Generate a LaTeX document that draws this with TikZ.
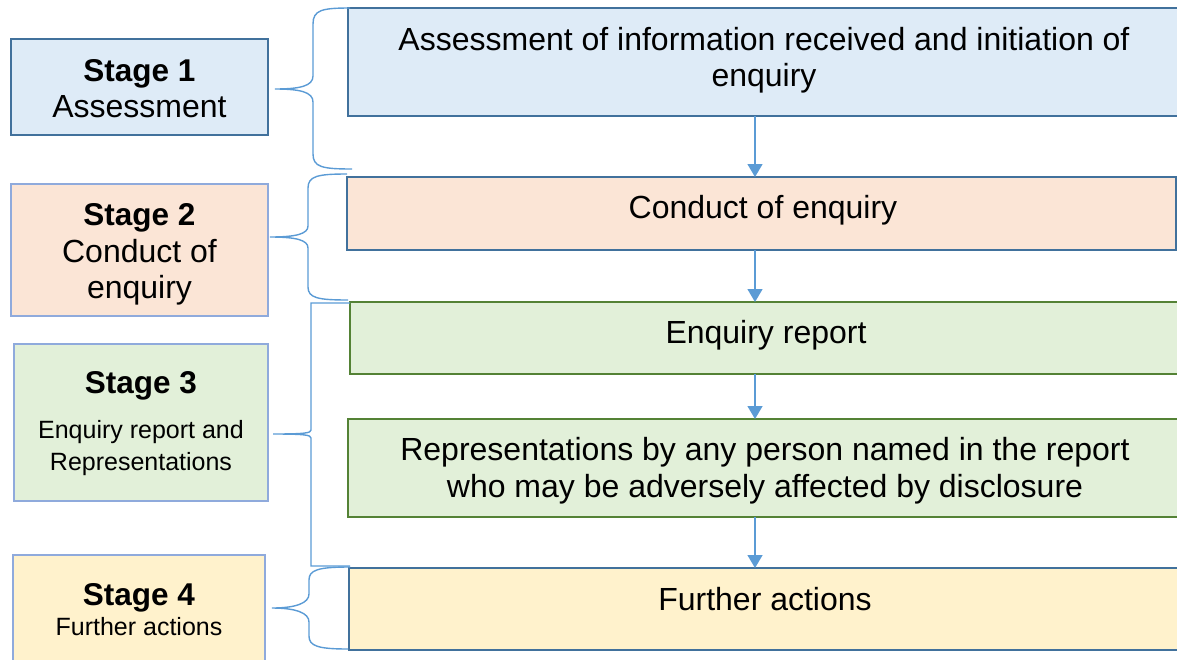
\documentclass[tikz,border=0pt]{standalone}
\usepackage{fontspec}
\setmainfont{Liberation Sans}
\usetikzlibrary{arrows.meta}
\definecolor{bluefill}{HTML}{DEEBF7}
\definecolor{darkblue}{HTML}{41719C}
\definecolor{lightblue}{HTML}{8FAADC}
\definecolor{peach}{HTML}{FBE5D6}
\definecolor{greenfill}{HTML}{E2F0D9}
\definecolor{darkgreen}{HTML}{548235}
\definecolor{yellowfill}{HTML}{FFF2CC}
\definecolor{linkblue}{HTML}{5B9BD5}
\begin{document}
\begin{tikzpicture}[x=1pt,y=-1pt,
  box/.style={draw, line width=2.2pt, inner sep=0pt, outer sep=0pt},
  big/.style={font=\fontsize{32}{36}\selectfont, anchor=base, inner sep=0pt},
  bigb/.style={font=\fontsize{31.5}{36}\selectfont\bfseries, anchor=base, inner sep=0pt},
  small/.style={font=\fontsize{25}{30}\selectfont, anchor=base, inner sep=0pt},
  brace/.style={draw=linkblue, line width=1.4pt},
  arr/.style={draw=linkblue, line width=1.4pt, -{Triangle[width=15pt,length=13pt]}}]
\useasboundingbox (0,0) rectangle (1177,659);
\clip (0,0) rectangle (1177,659);

% stage boxes
\node[box, draw=darkblue, fill=bluefill, minimum width=257pt, minimum height=96pt] (s1) at (139.5,87) {};
\node[box, draw=lightblue, fill=peach, minimum width=257pt, minimum height=132pt] (s2) at (139.5,250) {};
\node[box, draw=lightblue, fill=greenfill, minimum width=254pt, minimum height=157pt] (s3) at (141,422.5) {};
\node[box, draw=lightblue, fill=yellowfill, minimum width=252pt, minimum height=125pt] (s4) at (139,617.5) {};

% main boxes
\node[box, draw=darkblue, fill=bluefill, minimum width=837pt, minimum height=108pt] (m1) at (766.5,62) {};
\node[box, draw=darkblue, fill=peach, minimum width=829pt, minimum height=73pt] (m2) at (761.5,213.5) {};
\node[box, draw=darkgreen, fill=greenfill, minimum width=835pt, minimum height=72pt] (m3) at (767.5,338) {};
\node[box, draw=darkgreen, fill=greenfill, minimum width=837pt, minimum height=98pt] (m4) at (766.5,468) {};
\node[box, draw=darkblue, fill=yellowfill, minimum width=836pt, minimum height=82pt] (m5) at (767,609) {};

% stage texts
\node[bigb] (s1a) at (139.5,81) {Stage 1};
\node[big] (s1b) at (139.5,117) {Assessment};
\node[bigb] (s2a) at (139.5,225) {Stage 2};
\node[big] (s2b) at (139.5,262) {Conduct of};
\node[big] (s2c) at (139.5,298) {enquiry};
\node[bigb] (s3a) at (141,393) {Stage 3};
\node[small] (s3b) at (141,438) {Enquiry report and};
\node[small] (s3c) at (141,470) {Representations};
\node[bigb] (s4a) at (139,605) {Stage 4};
\node[small] (s4b) at (139,635) {Further actions};

% main texts
\node[big] (m1a) at (764,50) {Assessment of information received and initiation of};
\node[big] (m1b) at (764,86) {enquiry};
\node[big] (m2a) at (763,218) {Conduct of enquiry};
\node[big] (m3a) at (766,343) {Enquiry report};
\node[big] (m4a) at (765,460) {Representations by any person named in the report};
\node[big] (m4b) at (765,497) {who may be adversely affected by disclosure};
\node[big] (m5a) at (765,610) {Further actions};

% arrows
\coordinate (ax) at (755,0);
\draw[arr] (m1.south -| ax) -- (m2.north -| ax);
\draw[arr] (m2.south -| ax) -- (m3.north -| ax);
\draw[arr] (m3.south -| ax) -- (m4.north -| ax);
\draw[arr] (m4.south -| ax) -- (m5.north -| ax);

% braces
\draw[brace] (350,8) .. controls (322,8) and (313,10) .. (313,24) -- (313,76)
  .. controls (313,86) and (300,89) .. (275,89)
  .. controls (300,89) and (313,92) .. (313,102) -- (313,154)
  .. controls (313,167) and (322,169) .. (352,169);
\draw[brace] (347,174) .. controls (318,174) and (308,176) .. (308,188) -- (308,226)
  .. controls (308,234) and (296,237) .. (270,237)
  .. controls (296,237) and (308,240) .. (308,248) -- (308,287)
  .. controls (308,298) and (318,300) .. (348,300);
\draw[brace] (350,303) -- (311,303) -- (311,430)
  .. controls (311,433) and (305,434) .. (273,434)
  .. controls (305,434) and (311,435) .. (311,438) -- (311,566) -- (350,566);
\draw[brace] (350,567) .. controls (318,567) and (309,570) .. (309,580) -- (309,594)
  .. controls (309,603) and (296,608) .. (272,608)
  .. controls (296,608) and (309,613) .. (309,622) -- (309,636)
  .. controls (309,646) and (318,649) .. (348,649);
\end{tikzpicture}
\end{document}
